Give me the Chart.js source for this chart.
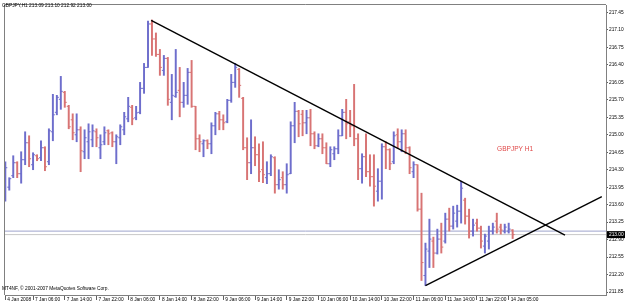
<!DOCTYPE html>
<html>
<head>
<meta charset="utf-8">
<script src="https://cdn.jsdelivr.net/npm/chart.js@4.4.1/dist/chart.umd.min.js"></script>
<style>
  html, body { margin: 0; padding: 0; background: #fff; }
  #chart { display: block; }
</style>
</head>
<body>
<canvas id="chart" width="625" height="303"></canvas>
<script>
// GBPJPY H1 bars, one entry per hour (index 0 = first bar on screen)
const opens = [
  213.77, 213.95, 214.18, 214.44, 214.22, 214.50, 214.84, 214.40, 214.58, 214.54,
  214.74, 214.46, 215.06, 215.45, 215.71, 215.85, 215.57, 215.30, 215.00, 215.10,
  214.66, 214.86, 214.90, 215.06, 214.74, 214.86, 215.08, 215.04, 214.86, 214.94,
  215.10, 215.32, 215.55, 215.34, 215.45, 215.93, 216.35, 217.22, 216.92, 216.61,
  216.29, 216.53, 215.65, 215.77, 215.89, 215.65, 215.79, 216.25, 215.57, 214.92,
  214.82, 214.88, 214.82, 215.18, 215.42, 215.30, 215.26, 215.69, 216.05, 216.31,
  215.73, 214.74, 214.44, 214.74, 214.60, 214.30, 214.14, 214.22, 214.54, 214.00,
  214.14, 214.00, 214.22, 215.18, 215.47, 215.41, 215.24, 215.34, 215.02, 214.78,
  214.92, 214.74, 214.42, 214.62, 214.72, 214.98, 215.45, 215.26, 215.18, 214.92,
  214.32, 214.56, 214.26, 214.16, 213.87, 214.07, 214.76, 214.70, 214.46, 215.00,
  214.86, 215.02, 214.74, 214.26, 214.40, 213.51, 212.18, 212.67, 212.87, 212.63,
  212.91, 212.87, 213.31, 213.17, 213.27, 213.47, 213.69, 213.37, 213.07, 213.23,
  213.13, 212.77, 212.87, 213.07, 213.27, 213.15, 213.07, 213.07, 213.09
];
const highs = [
  214.46, 214.14, 214.58, 214.46, 214.66, 215.06, 214.98, 214.64, 214.60, 214.88,
  214.76, 215.12, 215.81, 215.79, 216.17, 215.87, 215.59, 215.42, 215.42, 215.16,
  215.10, 215.22, 215.20, 215.12, 215.00, 215.16, 215.10, 215.06, 215.00, 215.20,
  215.45, 215.75, 215.59, 215.57, 216.05, 216.43, 217.28, 217.30, 217.04, 216.71,
  216.59, 216.55, 216.21, 216.71, 216.35, 216.05, 216.33, 216.49, 215.57, 215.00,
  214.90, 214.90, 215.24, 215.45, 215.47, 215.40, 215.71, 216.21, 216.43, 216.33,
  215.75, 214.94, 215.30, 214.96, 214.82, 214.86, 214.46, 214.60, 214.56, 214.30,
  214.26, 214.42, 215.26, 215.65, 215.49, 215.49, 215.49, 215.51, 215.06, 215.02,
  215.02, 214.84, 214.76, 214.76, 215.10, 215.51, 215.71, 215.49, 216.01, 215.02,
  214.62, 215.02, 214.60, 214.60, 214.32, 214.82, 214.86, 214.72, 215.06, 215.12,
  215.10, 215.10, 214.76, 214.46, 214.40, 213.83, 212.83, 213.31, 212.95, 213.11,
  213.23, 213.43, 213.53, 213.57, 213.59, 214.07, 213.73, 213.51, 213.31, 213.31,
  213.17, 213.01, 213.17, 213.23, 213.43, 213.21, 213.21, 213.23, 213.10
];
const lows = [
  213.67, 213.89, 214.14, 214.14, 214.03, 214.40, 214.36, 214.30, 214.48, 214.48,
  214.28, 214.40, 214.88, 215.40, 215.51, 215.55, 215.12, 214.90, 214.86, 214.26,
  214.52, 214.52, 214.76, 214.76, 214.52, 214.80, 214.80, 214.76, 214.42, 214.80,
  215.00, 215.26, 215.20, 215.30, 215.42, 215.83, 216.35, 216.59, 216.57, 216.19,
  216.19, 215.59, 215.30, 215.75, 215.36, 215.55, 215.61, 215.55, 214.70, 214.66,
  214.56, 214.72, 214.62, 215.00, 215.10, 215.10, 215.24, 215.65, 215.95, 215.75,
  214.70, 214.10, 214.22, 214.38, 214.06, 214.04, 214.02, 214.18, 213.83, 213.91,
  213.91, 213.83, 214.22, 214.84, 214.96, 214.98, 215.02, 214.78, 214.72, 214.76,
  214.62, 214.42, 214.36, 214.50, 214.62, 214.98, 214.92, 214.96, 214.78, 214.10,
  214.03, 214.16, 213.97, 213.57, 213.67, 213.71, 214.32, 214.30, 214.42, 214.74,
  214.66, 214.62, 214.22, 214.14, 213.47, 212.08, 211.98, 212.34, 212.34, 212.61,
  212.63, 212.83, 213.07, 213.11, 213.15, 213.23, 213.21, 212.93, 212.97, 213.07,
  212.73, 212.63, 212.71, 213.01, 213.03, 213.01, 213.03, 213.03, 212.92
];
const closes = [
  214.34, 214.12, 214.44, 214.22, 214.50, 214.84, 214.52, 214.60, 214.52, 214.74,
  214.36, 215.08, 215.40, 215.75, 215.87, 215.65, 215.16, 215.04, 215.10, 214.68,
  214.94, 215.06, 215.08, 214.94, 214.80, 215.04, 215.02, 214.86, 214.96, 215.16,
  215.36, 215.57, 215.32, 215.44, 215.93, 216.35, 217.22, 216.92, 216.61, 216.35,
  216.53, 215.71, 215.79, 215.85, 215.65, 215.79, 216.25, 215.57, 214.92, 214.86,
  214.88, 214.82, 215.18, 215.42, 215.30, 215.24, 215.69, 216.05, 216.35, 215.99,
  214.74, 214.44, 214.74, 214.60, 214.26, 214.20, 214.22, 214.56, 214.00, 214.10,
  214.00, 214.20, 215.18, 215.47, 215.22, 215.24, 215.34, 215.02, 214.78, 214.92,
  214.74, 214.42, 214.70, 214.72, 214.98, 215.45, 215.22, 215.18, 214.92, 214.32,
  214.56, 214.26, 214.16, 213.97, 214.07, 214.76, 214.70, 214.42, 214.98, 214.86,
  215.02, 214.74, 214.34, 214.40, 213.51, 212.44, 212.71, 212.91, 212.63, 212.91,
  212.75, 213.31, 213.17, 213.43, 213.47, 213.93, 213.37, 213.07, 213.19, 213.13,
  212.87, 212.97, 213.07, 213.15, 213.11, 213.09, 213.15, 213.11, 213.00
];

// time axis: a label every 8 bars
const xLabels = ['4 Jan 2008', '7 Jan 06:00', '7 Jan 14:00', '7 Jan 22:00', '8 Jan 06:00', '8 Jan 14:00',
  '8 Jan 22:00', '9 Jan 06:00', '9 Jan 14:00', '9 Jan 22:00', '10 Jan 06:00', '10 Jan 14:00',
  '10 Jan 22:00', '11 Jan 06:00', '11 Jan 14:00', '11 Jan 22:00', '14 Jan 05:00'];
const xLabelBars = [0, 7, 15, 23, 31, 39, 47, 55, 63, 71, 79, 87, 95, 103, 111, 119, 127];
const yTicks = [217.45, 217.10, 216.75, 216.40, 216.05, 215.70, 215.35, 215.00, 214.65,
  214.30, 213.95, 213.60, 213.25, 212.90, 212.55, 212.20, 211.85];

// drawn objects: trend lines as [bar index, price], horizontal lines as price
const trendDown = [[36.8, 217.29], [141.2, 212.99]];
const trendUp = [[106, 211.98], [150.5, 213.76]];
const hLine = 213.07;
const symbol = 'GBPJPY,H1';

const UP = '#6e6ecc';
const DOWN = '#d87474';
const X_MIN = -0.08, X_MAX = 151.55;
const Y_MIN = 211.79, Y_MAX = 217.60;
const smallFont = { family: 'Liberation Sans', size: 4.8 };

const idx = opens.map((_, i) => i);
const colors = idx.map(i => closes[i] >= opens[i] ? UP : DOWN);
const last = opens.length - 1;
const lastPrice = closes[last];

const decor = {
  id: 'decor',
  beforeDraw(chart) {
    const { ctx, chartArea: a } = chart;
    ctx.save();
    ctx.strokeStyle = '#808080';
    ctx.lineWidth = 1;
    ctx.beginPath();
    ctx.moveTo(a.left - 0.5, a.bottom);
    ctx.lineTo(a.left - 0.5, a.top - 0.5);
    ctx.lineTo(a.right, a.top - 0.5);
    ctx.stroke();
    ctx.restore();
  },
  afterDraw(chart) {
    const { ctx, chartArea: a, scales } = chart;
    ctx.save();
    ctx.font = `${smallFont.size}px "${smallFont.family}"`;
    ctx.fillStyle = '#000';
    ctx.textBaseline = 'top';
    const ohlc = [opens[last], highs[last], lows[last], closes[last]].map(v => v.toFixed(2)).join(' ');
    ctx.fillText(`${symbol} ${ohlc}`, 2, 3);
    ctx.fillText('MT4NF, \u00a9 2001-2007 MetaQuotes Software Corp.', 2, 286);

    ctx.font = '6.6px "Liberation Sans"';
    ctx.fillStyle = '#e04848';
    ctx.fillText('GBPJPY H1', 497, 145.5);

    // current price tag on the axis
    const py = scales.y.getPixelForValue(lastPrice);
    ctx.fillStyle = '#000';
    ctx.fillRect(a.right + 1, py - 3.5, 18, 7);
    ctx.fillStyle = '#fff';
    ctx.font = `${smallFont.size}px "${smallFont.family}"`;
    ctx.textBaseline = 'middle';
    ctx.fillText(lastPrice.toFixed(2), a.right + 3, py + 0.3);
    ctx.restore();
  }
};

new Chart(document.getElementById('chart'), {
  type: 'bar',
  data: {
    datasets: [
      {
        // high-low range of each bar
        type: 'bar',
        data: idx.map(i => ({ x: i, y: [lows[i], highs[i]] })),
        backgroundColor: colors,
        borderWidth: 0,
        barThickness: 1.3,
        order: 3
      },
      {
        // open ticks (left)
        type: 'scatter',
        data: idx.map(i => ({ x: i - 0.25, y: opens[i] })),
        pointStyle: 'line',
        pointRadius: 1,
        pointBorderColor: colors,
        pointBorderWidth: 1,
        order: 2
      },
      {
        // close ticks (right)
        type: 'scatter',
        data: idx.map(i => ({ x: i + 0.25, y: closes[i] })),
        pointStyle: 'line',
        pointRadius: 1,
        pointBorderColor: colors,
        pointBorderWidth: 1,
        order: 2
      },
      {
        type: 'line',
        data: [{ x: X_MIN, y: hLine }, { x: X_MAX, y: hLine }],
        borderColor: '#9ea4cc',
        borderWidth: 1,
        pointRadius: 0,
        order: 5
      },
      {
        type: 'line',
        data: [{ x: X_MIN, y: lastPrice }, { x: X_MAX, y: lastPrice }],
        borderColor: '#c8c8c8',
        borderWidth: 1,
        pointRadius: 0,
        order: 5
      },
      {
        type: 'line',
        data: trendDown.map(p => ({ x: p[0], y: p[1] })),
        borderColor: '#000',
        borderWidth: 1.4,
        pointRadius: 0,
        order: 0
      },
      {
        type: 'line',
        data: trendUp.map(p => ({ x: p[0], y: p[1] })),
        borderColor: '#000',
        borderWidth: 1.4,
        pointRadius: 0,
        order: 0
      }
    ]
  },
  options: {
    responsive: false,
    animation: false,
    devicePixelRatio: 1,
    events: [],
    layout: { padding: { left: 1, top: 2, right: 0, bottom: 0 } },
    plugins: { legend: { display: false }, tooltip: { enabled: false } },
    scales: {
      x: {
        type: 'linear',
        position: 'bottom',
        min: X_MIN,
        max: X_MAX,
        offset: false,
        afterBuildTicks: s => { s.ticks = xLabelBars.map(v => ({ value: v })); },
        afterFit: s => { s.height = 8; },
        ticks: {
          autoSkip: false,
          maxRotation: 0,
          align: 'start',
          labelOffset: 2,
          padding: -3,
          color: '#000',
          font: smallFont,
          callback: (v, i) => xLabels[i]
        },
        grid: { drawOnChartArea: false, offset: false, tickLength: 5, tickColor: '#606060' },
        border: { color: '#808080' }
      },
      y: {
        type: 'linear',
        position: 'right',
        min: Y_MIN,
        max: Y_MAX,
        beginAtZero: false,
        afterBuildTicks: s => { s.ticks = yTicks.map(v => ({ value: v })); },
        afterFit: s => { s.width = 19; },
        ticks: {
          padding: 1,
          color: '#000',
          font: smallFont,
          callback: v => v.toFixed(2)
        },
        grid: { drawOnChartArea: false, tickLength: 2, tickColor: '#606060' },
        border: { color: '#808080' }
      }
    }
  },
  plugins: [decor]
});
</script>
</body>
</html>
